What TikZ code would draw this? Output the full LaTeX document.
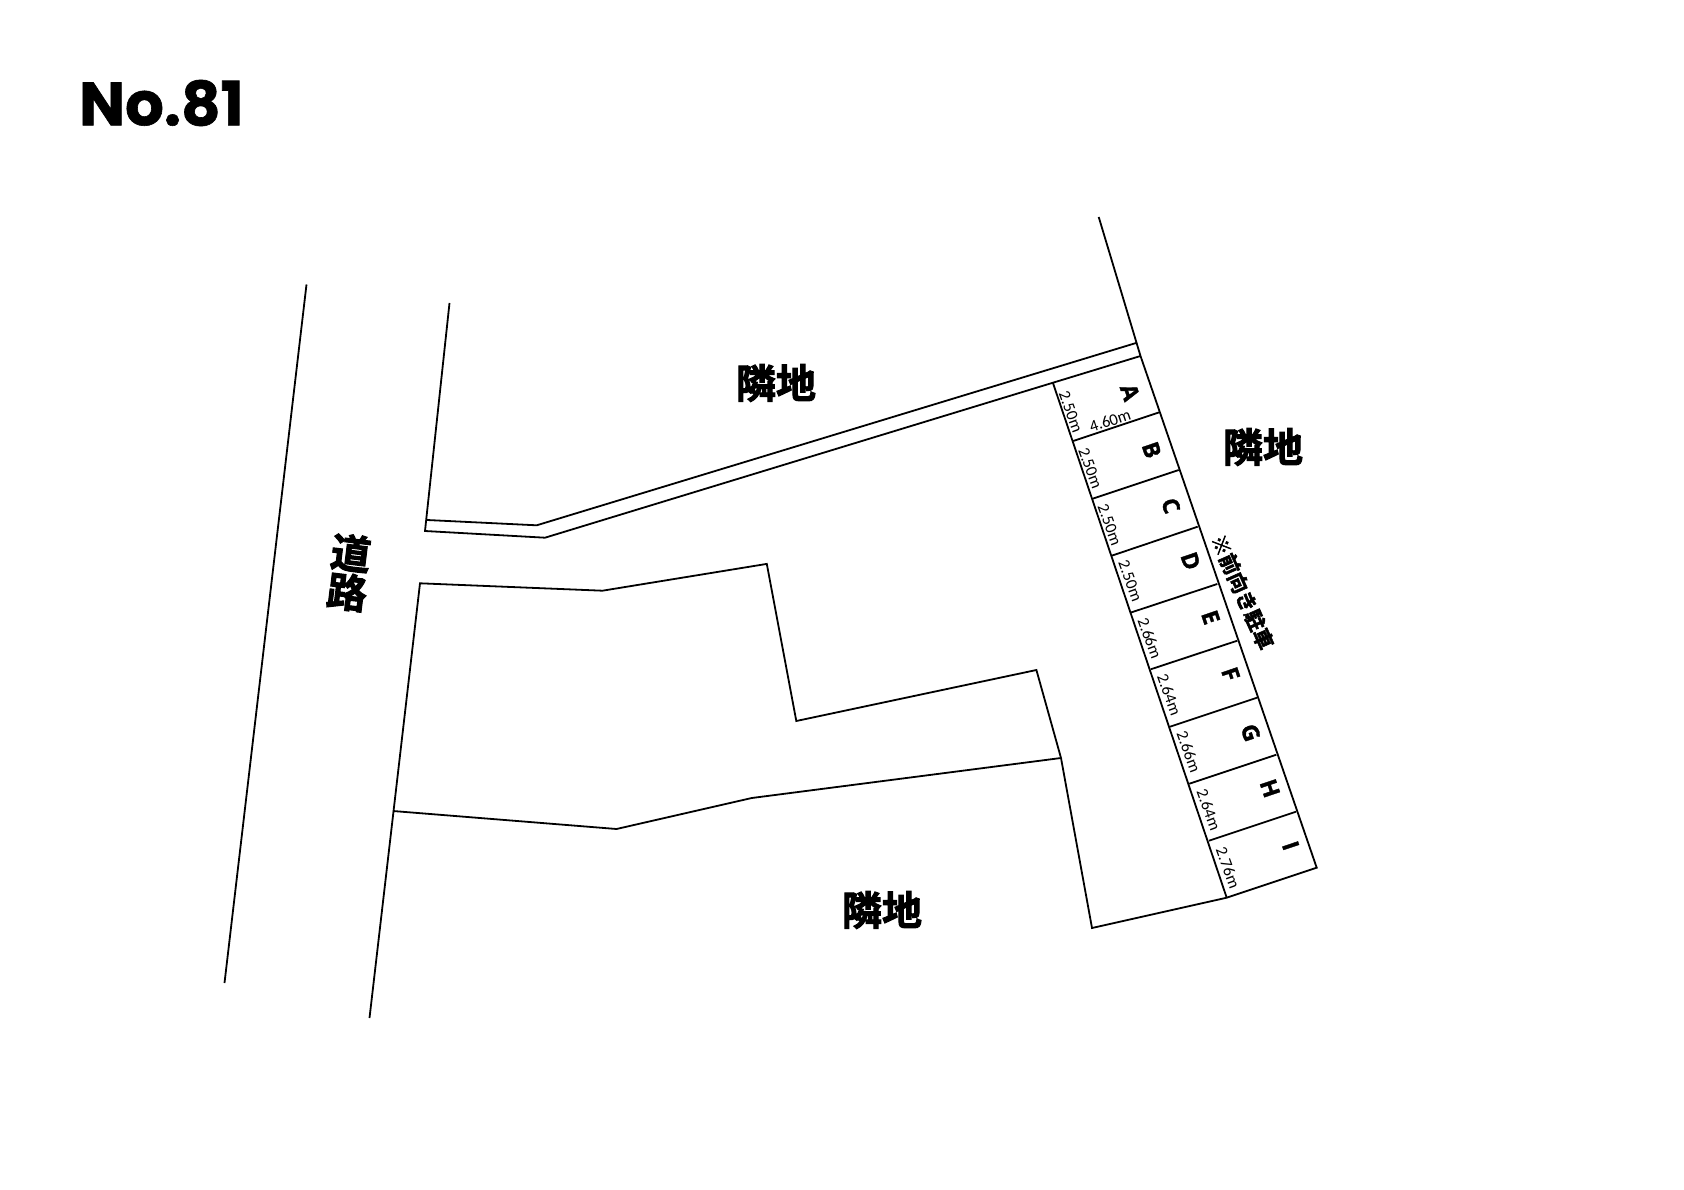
\documentclass[tikz,border=0pt]{standalone}
\usepackage{fontspec}
\newfontfamily\cjk[BoldFont={Noto Sans CJK JP Bold},BoldFeatures={FakeBold=2.5}]{Noto Sans CJK JP}
\newfontfamily\titlefont[BoldFeatures={FakeBold=1}]{Poppins}
\newfontfamily\dimfont{Carlito}
\newfontfamily\letfont[BoldFeatures={FakeBold=1.5}]{Open Sans}
\tikzset{
  plan/.style={draw=black,line width=1.8pt,line join=miter},
  bigjp/.style={inner sep=0pt,font={\fontsize{40}{40}\selectfont\cjk\bfseries}},
  noteJp/.style={inner sep=0pt,font={\fontsize{20.5}{22}\selectfont\cjk\bfseries},rotate=-66},
  stall/.style={inner sep=0pt,font={\fontsize{23}{23}\selectfont\letfont\bfseries},rotate=-71.4},
  dimtxt/.style={inner sep=0pt,font={\fontsize{16.5}{17}\selectfont\dimfont},rotate=-70},
}
\begin{document}
\begin{tikzpicture}[x=1pt,y=-1pt]
\useasboundingbox (0,0) rectangle (1684,1190);
% road
\draw[plan] (306.5,284.5) -- (224.5,983);
% access strip
\draw[plan] (449.5,303) -- (425,531) -- (545,537.7) -- (1140.5,356);
\draw[plan] (427,520) -- (536.7,525.3) -- (1137,342.7);
% east boundary
\draw[plan] (1098.7,217) -- (1140.5,356) -- (1316.7,867.7) -- (1226.7,897.7) -- (1092,928) -- (1061,758);
% lot
\draw[plan] (369.5,1018) -- (420,583.3) -- (602.5,590.7) -- (766.8,563.9) -- (796.3,721) -- (1036.4,670) -- (1061,758);
\draw[plan] (393,811) -- (616.5,829) -- (751.8,798) -- (1061,758);
% stalls
\draw[plan] (1052.8,382.5) -- (1226.7,897.7);
\foreach \xa/\ya/\xb/\yb in {1073.3/441/1159.3/412.3,1092.7/498.7/1178.7/470,1111.7/555.7/1197.7/526.7,1131/612.5/1217.3/584,1150.7/669.3/1237.3/640.7,1170/726.7/1257/697.7,1189.3/783.7/1276.3/754.7,1209/840.7/1296/811.7}
  \draw[plan] (\xa,\ya) -- (\xb,\yb);
% labels
\node[inner sep=0pt,anchor=west,font={\fontsize{61}{61}\selectfont\titlefont\bfseries}] (title) at (79,103) {No.81};
\node[bigjp] (n1) at (776,383) {隣地};
\node[bigjp] (n2) at (1263,447) {隣地};
\node[bigjp] (n3) at (882,910) {隣地};
\node[bigjp,rotate=-7] (r1) at (351,553) {道};
\node[bigjp,rotate=-7] (r2) at (347,592) {路};
\node[noteJp] (note) at (1242.5,592) {※前向き駐車};
\node[stall] (sA) at (1130,392.3) {A};
\node[stall] (sB) at (1151.7,450) {B};
\node[stall] (sC) at (1171,505.7) {C};
\node[stall] (sD) at (1190.7,561) {D};
\node[stall] (sE) at (1210.7,617.3) {E};
\node[stall] (sF) at (1230.7,674) {F};
\node[stall] (sG) at (1250.7,732.7) {G};
\node[stall] (sH) at (1270,788.3) {H};
\node[stall] (sI) at (1290.7,845.7) {I};
\node[dimtxt] (d1) at (1070.8,411.7) {2.50m};
\node[dimtxt] (d2) at (1090.3,468.3) {2.50m};
\node[dimtxt] (d3) at (1109.7,525) {2.50m};
\node[dimtxt] (d4) at (1130.3,580.7) {2.50m};
\node[dimtxt] (d5) at (1149.7,638.3) {2.66m};
\node[dimtxt] (d6) at (1169.3,695) {2.64m};
\node[dimtxt] (d7) at (1188.7,751.7) {2.66m};
\node[dimtxt] (d8) at (1208.7,810) {2.64m};
\node[dimtxt] (d9) at (1228,868) {2.76m};
\node[dimtxt,rotate=88.4] (w) at (1110,420.7) {4.60m};
\end{tikzpicture}
\end{document}
